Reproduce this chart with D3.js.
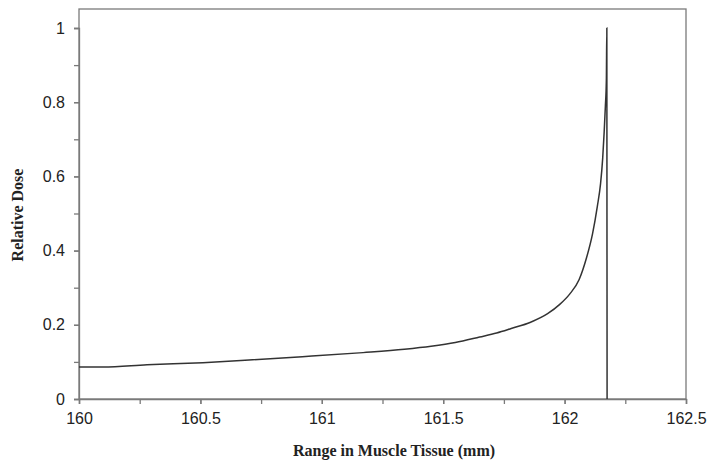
<!DOCTYPE html>
<html><head><meta charset="utf-8">
<script src="https://cdn.jsdelivr.net/npm/d3@7"></script>
<style>body{margin:0;background:#fff}svg{display:block}</style>
</head><body>
<script>
const rangeMm = [160, 160.1, 160.28, 160.51, 160.7, 160.92, 161.17, 161.34, 161.45, 161.55, 161.65, 161.72, 161.78, 161.86, 161.93, 161.98, 162.02, 162.06, 162.09, 162.115, 162.135, 162.148, 162.157, 162.163, 162.168, 162.172, 162.174, 162.175];
const relDose = [0.086, 0.086, 0.092, 0.098, 0.105, 0.114, 0.125, 0.134, 0.142, 0.152, 0.167, 0.178, 0.190, 0.207, 0.230, 0.255, 0.282, 0.322, 0.380, 0.445, 0.520, 0.580, 0.650, 0.720, 0.790, 0.860, 1.0, 0];
const xTicks = [160, 160.5, 161, 161.5, 162, 162.5];
const yTicks = [0, 0.2, 0.4, 0.6, 0.8, 1];
const xMinor = d3.range(160, 162.51, 0.25);
const yMinor = d3.range(0, 1.01, 0.1);

const W = 710, H = 464;
const m = {l: 79, r: 24, t: 9, b: 65};
const svg = d3.select("body").append("svg").attr("width", W).attr("height", H);
const x = d3.scaleLinear().domain([160, 162.5]).range([m.l, W - m.r]);
const y = d3.scaleLinear().domain([0, 1]).range([399, 28]);
const axisCol = "#7a7a7a";

// frame
svg.append("rect").attr("x", m.l).attr("y", m.t).attr("width", W - m.r - m.l).attr("height", 399 - m.t)
  .attr("fill", "none").attr("stroke", axisCol).attr("stroke-width", 1.3);

// minor ticks
svg.append("g").attr("transform", `translate(0,399)`)
  .call(d3.axisBottom(x).tickValues(xMinor).tickSize(5).tickFormat(""))
  .call(g => { g.select(".domain").remove(); g.selectAll("line").attr("stroke", axisCol).attr("stroke-width", 1.3); });
svg.append("g").attr("transform", `translate(${m.l},0)`)
  .call(d3.axisLeft(y).tickValues(yMinor).tickSize(5).tickFormat(""))
  .call(g => { g.select(".domain").remove(); g.selectAll("line").attr("stroke", axisCol).attr("stroke-width", 1.3); });

// major axes
svg.append("g").attr("transform", `translate(0,399)`)
  .call(d3.axisBottom(x).tickValues(xTicks).tickSize(5).tickPadding(9).tickFormat(d => String(d)))
  .call(g => {
    g.select(".domain").attr("stroke", axisCol).attr("stroke-width", 1.3);
    g.selectAll("line").attr("stroke", axisCol).attr("stroke-width", 1.3);
    g.selectAll("text").attr("font-family", "Liberation Sans, Arial, sans-serif").attr("font-size", 16).attr("fill", "#222");
  });
svg.append("g").attr("transform", `translate(${m.l},0)`)
  .call(d3.axisLeft(y).tickValues(yTicks).tickSize(5).tickPadding(9).tickFormat(d => String(d)))
  .call(g => {
    g.select(".domain").attr("stroke", axisCol).attr("stroke-width", 1.3);
    g.selectAll("line").attr("stroke", axisCol).attr("stroke-width", 1.3);
    g.selectAll("text").attr("font-family", "Liberation Sans, Arial, sans-serif").attr("font-size", 16).attr("fill", "#222");
  });

// line
const pts = rangeMm.map((v, i) => [v, relDose[i]]);
svg.append("path").datum(pts)
  .attr("fill", "none").attr("stroke", "#333").attr("stroke-width", 1.5)
  .attr("d", d3.line().x(d => x(d[0])).y(d => y(d[1])).curve(d3.curveMonotoneX));

// titles
svg.append("text").attr("x", 394).attr("y", 456).attr("text-anchor", "middle")
  .attr("font-family", "Liberation Serif, Times New Roman, serif").attr("font-weight", "bold").attr("font-size", 16).attr("fill", "#222")
  .text("Range in Muscle Tissue (mm)");
svg.append("text").attr("transform", `translate(23,215) rotate(-90)`).attr("text-anchor", "middle")
  .attr("font-family", "Liberation Serif, Times New Roman, serif").attr("font-weight", "bold").attr("font-size", 16).attr("fill", "#222")
  .text("Relative Dose");
</script>
</body></html>
